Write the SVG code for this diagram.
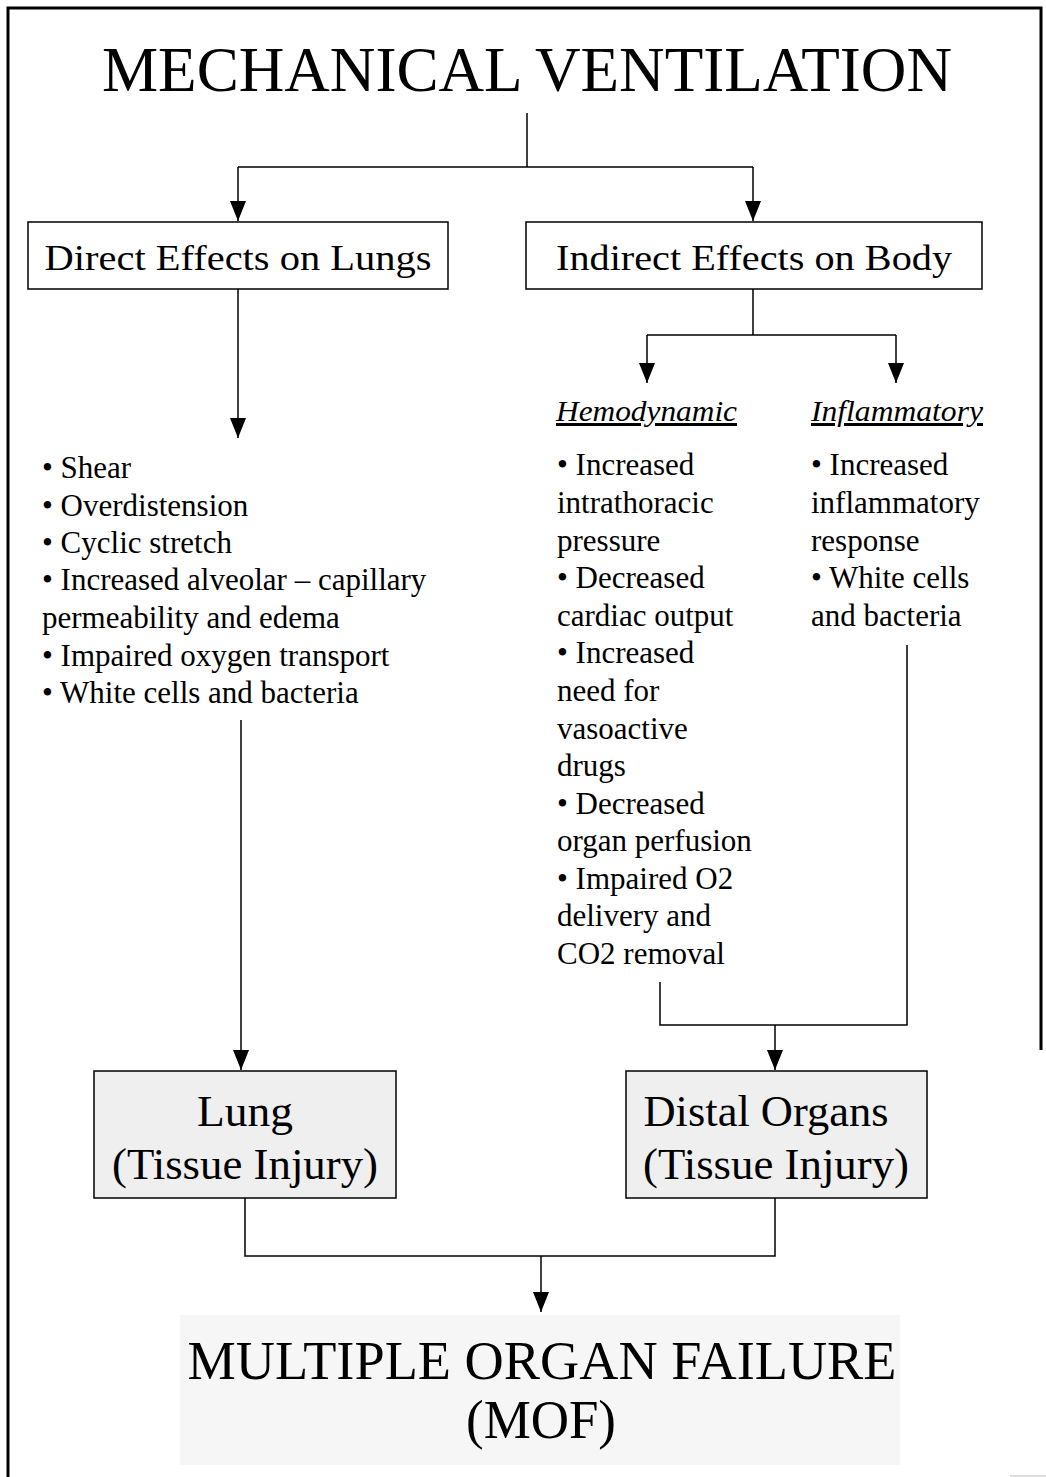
<svg xmlns="http://www.w3.org/2000/svg" width="1046" height="1477" viewBox="0 0 1046 1477">
<defs>
<marker id="ah" viewBox="0 0 20 16" refX="20" refY="8" markerWidth="20" markerHeight="16" markerUnits="userSpaceOnUse" orient="auto">
<path d="M0,0 L20,8 L0,16 Z" fill="#000"/>
</marker>
</defs>
<style>
text{font-family:"Liberation Serif","Times New Roman",serif;fill:#000}
.big{font-size:63px}
.mof{font-size:55px}
.hdr{font-size:36px}
.org{font-size:44px}
.itm{font-size:31px}
.sub{font-size:30px;font-style:italic;text-decoration:underline}
.box{fill:#fff;stroke:#000;stroke-width:1.5}
.gbox{fill:#efefef;stroke:#000;stroke-width:1.5}
.ln{fill:none;stroke:#000;stroke-width:1.5}
.ar{fill:none;stroke:#000;stroke-width:1.5;marker-end:url(#ah)}
</style>
<rect width="1046" height="1477" fill="#fff"/>
<path d="M8,1477 L8,8 L1041,8 L1041,1050" fill="none" stroke="#000" stroke-width="3"/>
<line x1="1010" y1="1476" x2="1046" y2="1476" stroke="#ddd" stroke-width="2"/>

<g id="title">
<text class="big" x="527" y="91" text-anchor="middle" textLength="850" lengthAdjust="spacingAndGlyphs">MECHANICAL VENTILATION</text>
</g>

<g id="connectors">
<path class="ln" d="M527,113 V167 M238,167 H753"/>
<path class="ar" d="M238,167 V221"/>
<path class="ar" d="M753,167 V221"/>
<path class="ar" d="M238,289 V438"/>
<path class="ln" d="M753,289 V335 M647,335 H896"/>
<path class="ar" d="M647,335 V383"/>
<path class="ar" d="M896,335 V383"/>
<path class="ar" d="M241,720 V1070"/>
<path class="ln" d="M660,982 V1025 H907 V645"/>
<path class="ar" d="M775,1025 V1070"/>
<path class="ln" d="M245,1198 V1256 H775 V1198"/>
<path class="ar" d="M541,1256 V1312"/>
</g>

<g id="direct">
<rect class="box" x="28" y="222" width="420" height="67"/>
<text class="hdr" x="238" y="270" text-anchor="middle" textLength="387" lengthAdjust="spacingAndGlyphs">Direct Effects on Lungs</text>
</g>

<g id="indirect">
<rect class="box" x="526" y="222" width="456" height="67"/>
<text class="hdr" x="754" y="270" text-anchor="middle" textLength="396" lengthAdjust="spacingAndGlyphs">Indirect Effects on Body</text>
</g>

<g id="direct-list">
<text class="itm" x="42" y="478">• Shear</text>
<text class="itm" x="42" y="516">• Overdistension</text>
<text class="itm" x="42" y="553">• Cyclic stretch</text>
<text class="itm" x="42" y="590">• Increased alveolar – capillary</text>
<text class="itm" x="42" y="628">permeability and edema</text>
<text class="itm" x="42" y="666">• Impaired oxygen transport</text>
<text class="itm" x="42" y="703">• White cells and bacteria</text>
</g>

<g id="hemodynamic">
<text class="sub" x="556" y="421" textLength="181" lengthAdjust="spacingAndGlyphs">Hemodynamic</text>
<text class="itm" x="557" y="475">• Increased</text>
<text class="itm" x="557" y="513">intrathoracic</text>
<text class="itm" x="557" y="551">pressure</text>
<text class="itm" x="557" y="588">• Decreased</text>
<text class="itm" x="557" y="626">cardiac output</text>
<text class="itm" x="557" y="663">• Increased</text>
<text class="itm" x="557" y="701">need for</text>
<text class="itm" x="557" y="739">vasoactive</text>
<text class="itm" x="557" y="776">drugs</text>
<text class="itm" x="557" y="814">• Decreased</text>
<text class="itm" x="557" y="851">organ perfusion</text>
<text class="itm" x="557" y="889">• Impaired O2</text>
<text class="itm" x="557" y="926">delivery and</text>
<text class="itm" x="557" y="964">CO2 removal</text>
</g>

<g id="inflammatory">
<text class="sub" x="811" y="421" textLength="172" lengthAdjust="spacingAndGlyphs">Inflammatory</text>
<text class="itm" x="811" y="475">• Increased</text>
<text class="itm" x="811" y="513">inflammatory</text>
<text class="itm" x="811" y="551">response</text>
<text class="itm" x="811" y="588">• White cells</text>
<text class="itm" x="811" y="626">and bacteria</text>
</g>

<g id="lung">
<rect class="gbox" x="94" y="1071" width="302" height="127"/>
<text class="org" x="245" y="1126" text-anchor="middle" textLength="96" lengthAdjust="spacingAndGlyphs">Lung</text>
<text class="org" x="245" y="1179" text-anchor="middle" textLength="266" lengthAdjust="spacingAndGlyphs">(Tissue Injury)</text>
</g>

<g id="distal">
<rect class="gbox" x="626" y="1071" width="301" height="127"/>
<text class="org" x="766" y="1126" text-anchor="middle" textLength="245" lengthAdjust="spacingAndGlyphs">Distal Organs</text>
<text class="org" x="776" y="1179" text-anchor="middle" textLength="266" lengthAdjust="spacingAndGlyphs">(Tissue Injury)</text>
</g>

<g id="mof">
<rect x="180" y="1315" width="720" height="150" fill="#f6f6f6"/>
<text class="mof" x="542" y="1379" text-anchor="middle" textLength="709" lengthAdjust="spacingAndGlyphs">MULTIPLE ORGAN FAILURE</text>
<text class="mof" x="541" y="1438" text-anchor="middle" textLength="150" lengthAdjust="spacingAndGlyphs">(MOF)</text>
</g>
</svg>
